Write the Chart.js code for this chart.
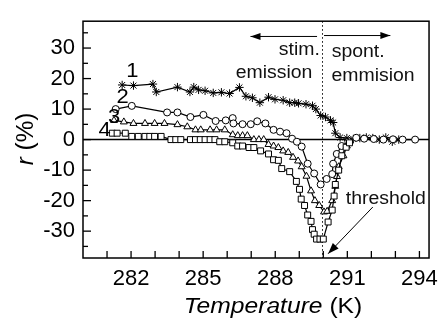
<!DOCTYPE html>
<html><head><meta charset="utf-8">
<script src="https://cdn.jsdelivr.net/npm/chart.js@4.4.1/dist/chart.umd.min.js"></script>
<style>html,body{margin:0;padding:0;background:#fff;}canvas{display:block;}</style>
</head><body>
<canvas id="c" width="446" height="320"></canvas>
<script>
// Temperature (K) and r (%) for the four curves
const t1 = [281.63,282.10,282.91,283.05,283.93,284.45,284.61,284.81,285.08,285.42,285.76,286.10,286.51,286.78,287.05,287.36,287.72,287.99,288.33,288.60,288.81,288.97,289.28,289.55,289.69,289.89,290.09,290.30,290.41,290.50,290.70,290.98,291.25,291.52,291.79,292.06,292.33,292.60,292.87,293.14];
const r1 = [17.9,17.7,18.2,15.6,17.2,15.6,17.2,16.3,16.0,15.3,15.5,15.1,17.1,14.2,13.7,12.1,13.9,13.2,12.9,12.1,12.1,11.9,11.6,11.1,10.0,7.9,7.4,6.3,5.6,2.1,0.7,0.5,0.2,0.5,0.7,0.5,0.0,0.7,-0.7,0.0];
const t2 = [281.36,282.03,283.50,283.93,284.47,285.01,285.52,285.94,286.23,286.26,286.64,286.98,287.25,287.59,287.93,288.20,288.47,288.70,288.90,289.10,289.35,289.62,289.89,290.14,290.37,290.41,290.56,290.76,291.04,291.37,291.70,292.10,292.50,292.90,293.30,293.82];
const r2 = [10.0,11.05,8.9,8.9,7.4,8.1,6.1,6.3,7.05,5.3,5.05,5.05,6.0,5.3,3.2,2.6,2.1,0.3,-0.7,-2.3,-7.9,-11.1,-14.7,-12.9,-11.3,-7.9,-4.7,-2.1,-0.7,0.6,0.3,0.2,0.0,0.1,0.0,0.0];
const t3 = [281.29,281.70,282.10,282.58,282.98,283.39,283.93,284.34,284.68,284.90,285.29,285.56,285.90,286.23,286.44,286.64,286.84,287.11,287.32,287.52,287.72,287.93,288.13,288.33,288.54,288.74,288.95,289.10,289.30,289.49,289.65,289.83,290.03,290.16,290.37,290.50,290.57,290.64,290.84,290.98,291.10];
const r3 = [6.3,5.8,5.3,5.3,5.3,5.3,4.9,4.2,3.2,3.2,3.2,3.2,3.2,1.6,1.3,1.3,1.3,0.0,0.0,0.0,-1.6,-2.1,-2.6,-3.7,-4.2,-5.8,-7.0,-8.9,-12.0,-16.8,-20.0,-21.6,-23.7,-23.5,-20.0,-15.3,-12.1,-8.9,-5.3,-2.1,-0.5];
const t4 = [281.22,281.42,281.76,282.03,282.30,282.58,282.78,282.98,283.25,283.66,283.86,284.07,284.47,284.68,284.88,285.08,285.29,285.49,285.69,285.90,286.23,286.44,286.64,286.91,287.11,287.39,287.72,287.93,288.13,288.27,288.60,288.88,289.01,289.08,289.22,289.35,289.49,289.55,289.62,289.72,289.86,290.00,290.20,290.37,290.45,290.50,290.64,290.77,290.95,291.09];
const r4 = [2.1,2.1,2.1,1.05,1.05,1.05,1.05,1.05,1.05,0,0,0,0,0,0,0,0,0,-0.7,-0.7,-1.05,-2.1,-2.1,-2.6,-2.6,-3.7,-4.7,-6.6,-6.8,-9.5,-10.5,-13.7,-16.3,-19.5,-21.6,-24.7,-26.8,-29.5,-31.0,-32.6,-32.6,-32.6,-27.0,-23.1,-18.5,-14.7,-10.0,-5.3,-2.5,-1.05];

const xTickLabels = [282,285,288,291,294];
const yTickLabels = [-30,-20,-10,0,10,20,30];
const xMinorTicks = [281,282,283,284,285,286,287,288,289,290,291,292,293,294];
const yMinorTicks = [-35,-25,-15,-5,5,15,25,35];
const curveNames = ['1','2','3','4'];
const curveNamePos = [[282.05,22.4],[281.65,13.8],[281.3,7.4],[280.9,3.0]];
const thresholdT = 289.95;

const FONT = "'Liberation Sans', Arial, sans-serif";
const pts = (t, r) => t.map((x, i) => ({x: x, y: r[i]}));
function ds(t, r, style, rad) {
  return {data: pts(t, r), showLine: true, borderColor: '#000', borderWidth: 1.2,
    pointStyle: style, pointRadius: rad, pointBackgroundColor: '#fff',
    pointBorderColor: '#000', pointBorderWidth: 1, tension: 0};
}

function arrow(ctx, x1, y1, x2, y2, len, hw) {
  ctx.beginPath(); ctx.moveTo(x1, y1); ctx.lineTo(x2, y2); ctx.stroke();
  const a = Math.atan2(y2 - y1, x2 - x1);
  ctx.beginPath();
  ctx.moveTo(x2, y2);
  ctx.lineTo(x2 - len * Math.cos(a) + hw * Math.sin(a), y2 - len * Math.sin(a) - hw * Math.cos(a));
  ctx.lineTo(x2 - len * Math.cos(a) - hw * Math.sin(a), y2 - len * Math.sin(a) + hw * Math.cos(a));
  ctx.closePath(); ctx.fill();
}

function wideText(ctx, txt, cx, cy, sx) {
  ctx.save();
  ctx.translate(cx, cy); ctx.scale(sx, 1);
  ctx.fillText(txt, 0, 0);
  ctx.restore();
}

const decor = {
  id: 'decor',
  beforeDatasetsDraw(chart) {
    const {ctx, chartArea: a, scales: {x, y}} = chart;
    ctx.save();
    ctx.strokeStyle = '#000';
    ctx.lineWidth = 1.5;
    const y0 = y.getPixelForValue(0);
    ctx.beginPath(); ctx.moveTo(a.left, y0); ctx.lineTo(a.right, y0); ctx.stroke();
    ctx.lineWidth = 1;
    ctx.setLineDash([1.5, 2.5]);
    const xt = Math.round(x.getPixelForValue(thresholdT)) + 0.5;
    ctx.beginPath(); ctx.moveTo(xt, a.top); ctx.lineTo(xt, a.bottom); ctx.stroke();
    ctx.restore();
  },
  afterDraw(chart) {
    const {ctx, chartArea: a, scales: {x, y}} = chart;
    ctx.save();
    ctx.strokeStyle = '#000'; ctx.fillStyle = '#000';
    ctx.lineWidth = 1.5;
    ctx.strokeRect(a.left, a.top, a.right - a.left, a.bottom - a.top);
    ctx.lineWidth = 1.3;
    xMinorTicks.forEach(v => {
      const px = x.getPixelForValue(v);
      ctx.beginPath(); ctx.moveTo(px, a.bottom); ctx.lineTo(px, a.bottom - 7); ctx.stroke();
    });
    yTickLabels.forEach(v => {
      const py = y.getPixelForValue(v);
      ctx.beginPath(); ctx.moveTo(a.left, py); ctx.lineTo(a.left + 8, py); ctx.stroke();
    });
    yMinorTicks.forEach(v => {
      const py = y.getPixelForValue(v);
      ctx.beginPath(); ctx.moveTo(a.left, py); ctx.lineTo(a.left + 5, py); ctx.stroke();
    });
    // curve numbers
    ctx.font = '20px ' + FONT;
    ctx.textAlign = 'center'; ctx.textBaseline = 'middle';
    curveNames.forEach((n, i) => {
      wideText(ctx, n, x.getPixelForValue(curveNamePos[i][0]), y.getPixelForValue(curveNamePos[i][1]), 1.1);
    });
    // annotations
    ctx.font = '18px ' + FONT;
    ctx.fillStyle = '#111';
    wideText(ctx, 'stim.', x.getPixelForValue(289.0), y.getPixelForValue(29.4), 1.08);
    wideText(ctx, 'emission', x.getPixelForValue(287.95), y.getPixelForValue(21.9), 1.08);
    wideText(ctx, 'spont.', x.getPixelForValue(291.45), y.getPixelForValue(28.8), 1.08);
    wideText(ctx, 'emmision', x.getPixelForValue(292.07), y.getPixelForValue(20.9), 1.08);
    wideText(ctx, 'threshold', x.getPixelForValue(292.6), y.getPixelForValue(-19.6), 1.08);
    ctx.fillStyle = '#000';
    ctx.lineWidth = 1;
    arrow(ctx, x.getPixelForValue(289.74), y.getPixelForValue(33.8), x.getPixelForValue(286.97), y.getPixelForValue(33.8), 10, 3.5);
    arrow(ctx, x.getPixelForValue(290.03), y.getPixelForValue(34.1), x.getPixelForValue(292.79), y.getPixelForValue(34.1), 10, 3.5);
    arrow(ctx, x.getPixelForValue(292.06), y.getPixelForValue(-22.1), x.getPixelForValue(290.2), y.getPixelForValue(-37.4), 11, 4);
    // axis titles
    ctx.textBaseline = 'middle'; ctx.textAlign = 'left';
    const fI = 'italic 22px ' + FONT, fN = '22px ' + FONT;
    const sx = 1.12;
    ctx.font = fI; const w1 = ctx.measureText('Temperature').width;
    ctx.font = fN; const w2 = ctx.measureText(' (K)').width;
    ctx.save();
    ctx.translate(273, 307); ctx.scale(sx, 1);
    const cx = -(w1 + w2) / 2;
    ctx.font = fI; ctx.fillText('Temperature', cx, 0);
    ctx.font = fN; ctx.fillText(' (K)', cx + w1, 0);
    ctx.restore();
    ctx.translate(26, 139); ctx.rotate(-Math.PI / 2); ctx.scale(1.1, 1.1);
    ctx.font = fI; const v1 = ctx.measureText('r').width;
    ctx.font = fN; const v2 = ctx.measureText(' (%)').width;
    ctx.font = fI; ctx.fillText('r', -(v1 + v2) / 2, 0);
    ctx.font = fN; ctx.fillText(' (%)', -(v1 + v2) / 2 + v1, 0);
    ctx.restore();
  }
};

new Chart(document.getElementById('c'), {
  type: 'scatter',
  data: {datasets: [
    ds(t4, r4, 'rect', 4.2),
    ds(t3, r3, 'triangle', 4),
    ds(t2, r2, 'circle', 3.5),
    ds(t1, r1, 'star', 4.2)
  ]},
  options: {
    responsive: false, animation: false,
    layout: {padding: {top: 12, right: 8, left: 0, bottom: 0}},
    plugins: {legend: {display: false}, tooltip: {enabled: false}},
    scales: {
      x: {type: 'linear', min: 280, max: 294.4,
        afterBuildTicks: s => { s.ticks = xTickLabels.map(v => ({value: v})); },
        afterFit: s => { s.height = 62; },
        grid: {display: false, drawTicks: false}, border: {display: false},
        ticks: {font: {family: FONT, size: 22}, color: '#000', padding: 8, maxRotation: 0, autoSkip: false,
          callback: v => String(v)}},
      y: {type: 'linear', min: -38.8, max: 38.8,
        afterBuildTicks: s => { s.ticks = yTickLabels.map(v => ({value: v})); },
        afterFit: s => { s.width = 83; },
        grid: {display: false, drawTicks: false}, border: {display: false},
        ticks: {font: {family: FONT, size: 22}, color: '#000', padding: 8, autoSkip: false,
          callback: v => String(v)}}
    }
  },
  plugins: [decor]
});
</script>
</body></html>
